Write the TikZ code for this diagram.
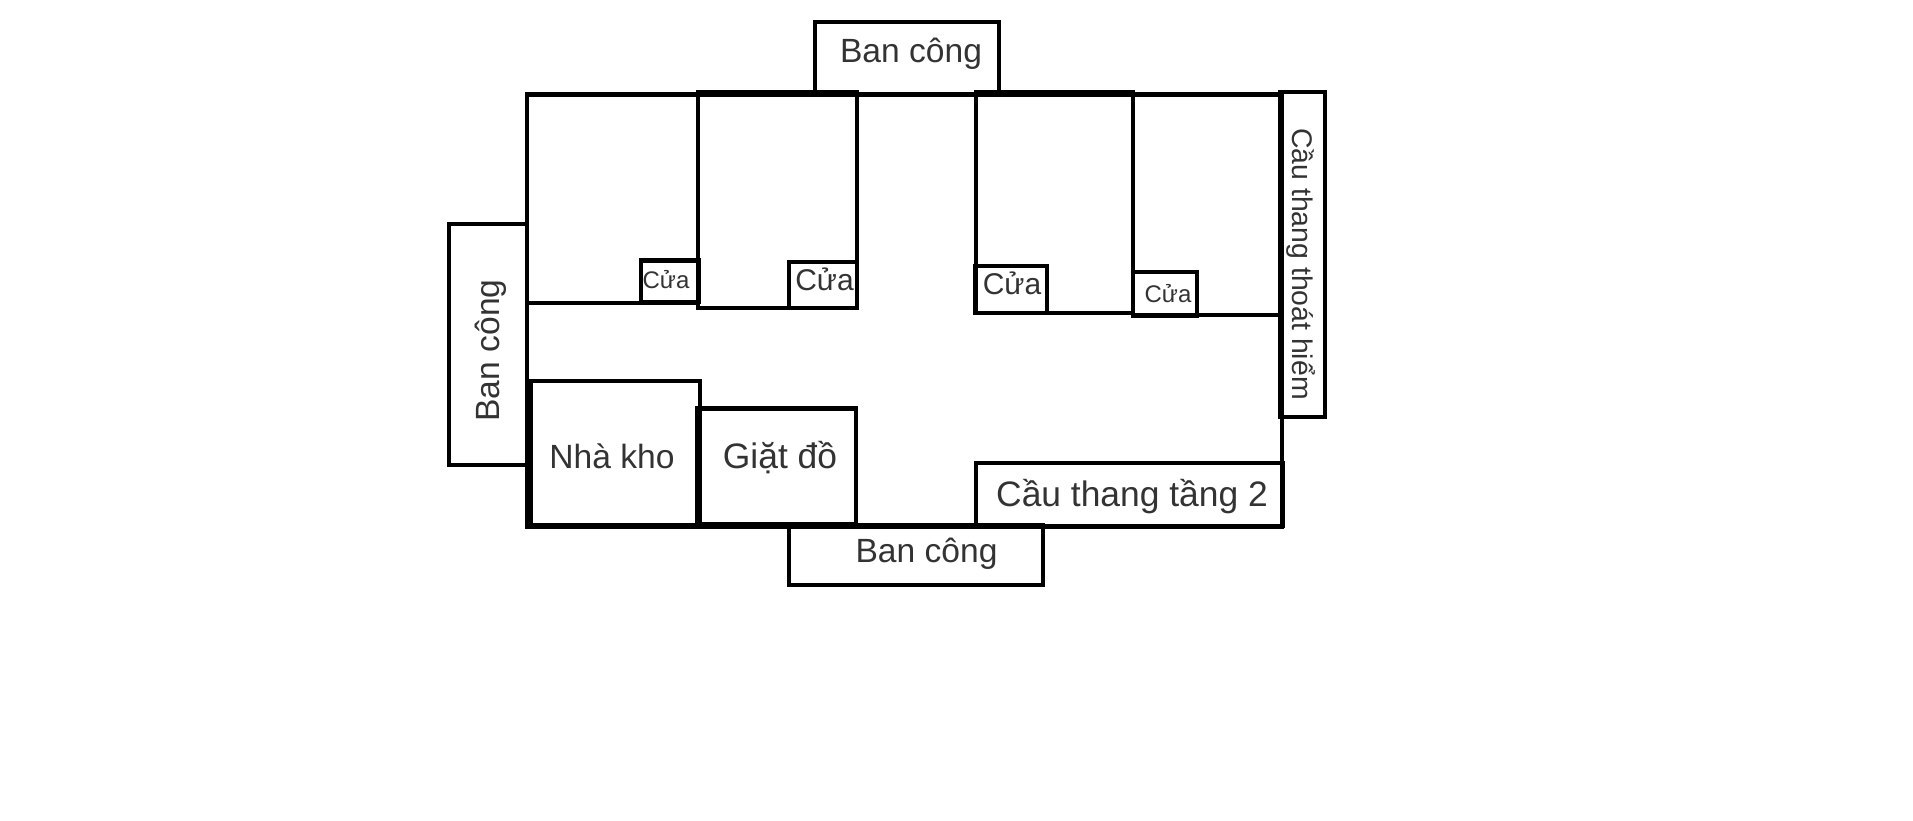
\documentclass[tikz,border=0pt]{standalone}
\usepackage{fontspec}
\setmainfont{Liberation Sans}
\definecolor{labelgray}{HTML}{333333}
\tikzset{
    wall/.style={line width=4.8pt, black},
    roomlabel/.style={anchor=base, text=labelgray, inner sep=0pt},
    bigfont/.style={font=\fontsize{35.4}{40}\selectfont},
    midfont/.style={font=\fontsize{33.6}{38}\selectfont},
    doorfont/.style={font=\fontsize{30}{34}\selectfont},
    tinyfont/.style={font=\fontsize{24}{28}\selectfont},
}
\begin{document}
\begin{tikzpicture}[x=1pt, y=-1pt]
    \useasboundingbox (0,0) rectangle (1913,820);

    % main floor outline
    \draw[wall] (527,94.5) rectangle (1282,526.5);

    % bedrooms along the top wall
    \draw[wall] (527,303) -- (700,303);
    \draw[wall] (698,92.5) rectangle (857,308);
    \draw[wall] (976,92.5) rectangle (1133,313);
    \draw[wall] (1133,315) -- (1282,315);

    % doors
    \draw[wall] (641,260.5) rectangle (699,302);
    \draw[wall] (789,262) rectangle (857,308);
    \draw[wall] (975,266) rectangle (1047,313);
    \draw[wall] (1133,272) rectangle (1197,315.5);

    % balconies
    \draw[wall] (815,22) rectangle (999,94);
    \draw[wall] (449,224) rectangle (527,465);
    \draw[wall] (789,525) rectangle (1043,585);

    % store room, laundry, stairs
    \draw[wall] (531,381) rectangle (700,525);
    \draw[wall] (697,408.5) rectangle (856,524);
    \draw[wall] (976,463) rectangle (1283,526);
    \draw[wall] (1280,92) rectangle (1325,417);

    % labels
    \node[roomlabel, midfont] (topbalcony) at (911,62) {Ban công};
    \node[roomlabel, midfont, rotate=90] (leftbalcony) at (499,350.5) {Ban công};
    \node[roomlabel, midfont] (bottombalcony) at (926.5,562.5) {Ban công};
    \node[roomlabel, midfont] (storeroom) at (612,468) {Nhà kho};
    \node[roomlabel, bigfont] (laundry) at (780,468) {Giặt đồ};
    \node[roomlabel, bigfont] (mainstairs) at (1132,506.5) {Cầu thang tầng 2};
    \node[roomlabel, font=\fontsize{28.4}{32}\selectfont, rotate=-90] (firestairs) at (1292.5,264) {Cầu thang thoát hiểm};

    \node[roomlabel, tinyfont] (doorone) at (666,288.5) {Cửa};
    \node[roomlabel, doorfont] (doortwo) at (824.5,290.5) {Cửa};
    \node[roomlabel, doorfont] (doorthree) at (1012,294.5) {Cửa};
    \node[roomlabel, tinyfont] (doorfour) at (1168,302.5) {Cửa};
\end{tikzpicture}
\end{document}
